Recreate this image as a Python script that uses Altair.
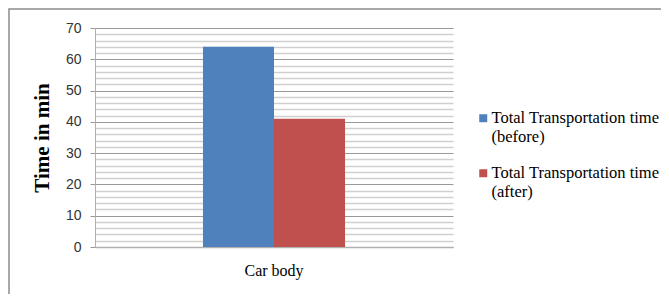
import altair as alt
import pandas as pd

categories = ["Car body"]
series = ["Total Transportation time (before)", "Total Transportation time (after)"]
values = [64, 41]
colors = ["#4f81bd", "#c0504d"]
major_ticks = [0, 10, 20, 30, 40, 50, 60, 70]
minor_ticks = [v for v in range(0, 71, 2) if v % 10 != 0]

df = pd.DataFrame({
    "cat": [categories[0]] * len(series),
    "series": series,
    "value": values,
})

SERIF = "Liberation Serif, Times New Roman, serif"
y_scale = alt.Scale(domain=[0, 70], nice=False)

bars = alt.Chart(df).mark_bar().encode(
    x=alt.X("cat:N", scale=alt.Scale(paddingInner=0, paddingOuter=0.76),
            axis=alt.Axis(title=None, labelAngle=0, labelFont=SERIF,
                          labelFontSize=16, labelColor="#000", ticks=False,
                          domainColor="#b0b0b0", domainWidth=1.5, labelPadding=15)),
    xOffset=alt.XOffset("series:N", sort=series,
                        scale=alt.Scale(paddingInner=0, paddingOuter=0)),
    y=alt.Y("value:Q", scale=y_scale,
            axis=alt.Axis(values=major_ticks, grid=True, gridColor="#999999",
                          gridWidth=1, domainColor="#b0b0b0", tickColor="#999999",
                          tickSize=5, labelFont="Liberation Sans", labelFontSize=14,
                          labelColor="#333333", labelPadding=9,
                          title="Time in min", titleFont=SERIF,
                          titleFontSize=21, titleFontWeight="bold", titleColor="#000",
                          titlePadding=13)),
    color=alt.Color("series:N",
                    scale=alt.Scale(domain=series, range=colors),
                    legend=alt.Legend(
                        title=None, orient="none", legendX=380, legendY=82,
                        padding=0, symbolType="square", symbolSize=64,
                        symbolStrokeWidth=0, labelFont=SERIF,
                        labelFontSize=16.5, labelColor="#000", labelLimit=400,
                        labelOffset=0, labelBaseline="middle", rowPadding=19,
                        labelExpr="['Total Transportation time', replace(datum.label, 'Total Transportation time ', '')]")),
)

minor = alt.Chart(df).mark_bar(opacity=0).encode(
    y=alt.Y("value:Q", scale=y_scale,
            axis=alt.Axis(orient="right", values=minor_ticks, grid=True,
                          gridColor="#d0d0d0", gridWidth=1.5, labels=False,
                          ticks=False, domain=False, title=None)),
)

border = alt.Chart(alt.Data(values=[{}])).mark_rect(
    fill=None, stroke="#8c8c8c", strokeWidth=1.5
).encode(
    x=alt.value(-86), x2=alt.value(700), y=alt.value(-19), y2=alt.value(400)
)

chart = alt.layer(minor, bars, border).resolve_axis(y="independent").properties(
    width=358, height=219,
    autosize=alt.AutoSizeParams(type="none"),
    padding={"left": 87, "top": 20, "right": 208, "bottom": 47},
).configure_view(stroke=None)

chart.save("out.html", embed_options={"renderer": "svg", "actions": False})
